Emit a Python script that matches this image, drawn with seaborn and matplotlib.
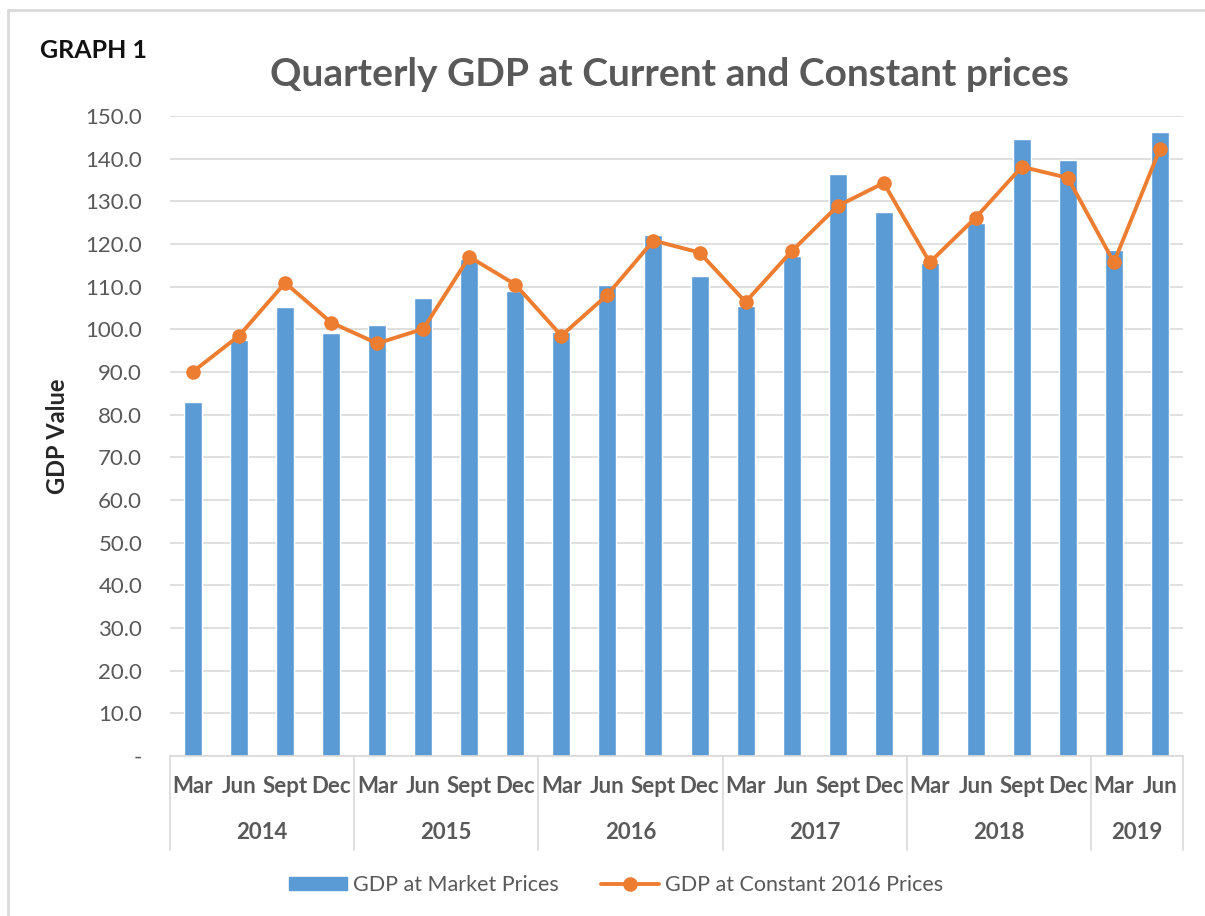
import matplotlib
matplotlib.use("Agg")
import matplotlib.pyplot as plt
import matplotlib.transforms as mtransforms
from matplotlib.lines import Line2D
from matplotlib.patches import Patch
from matplotlib.ticker import FuncFormatter
import numpy as np
import pandas as pd
import seaborn as sns

# ---- data ----
years = ["2014", "2015", "2016", "2017", "2018", "2019"]
quarters_per_year = [4, 4, 4, 4, 4, 2]
months = ["Mar", "Jun", "Sept", "Dec"] * 5 + ["Mar", "Jun"]
market_prices = [83.0, 97.5, 105.2, 99.1, 101.0, 107.3, 116.5, 109.0,
                 99.3, 110.5, 122.2, 112.6, 105.5, 117.2, 136.3, 127.6,
                 115.5, 125.0, 144.5, 139.6, 118.6, 146.2]
constant_prices = [90.1, 98.5, 110.9, 101.6, 96.7, 100.1, 117.0, 110.5,
                   98.5, 108.1, 120.8, 118.0, 106.4, 118.3, 128.9, 134.3,
                   115.7, 126.2, 138.1, 135.5, 115.7, 142.3]
yticks = [0, 10, 20, 30, 40, 50, 60, 70, 80, 90, 100, 110, 120, 130, 140, 150]

df = pd.DataFrame({"pos": np.arange(len(months)), "month": months,
                   "market": market_prices, "constant": constant_prices})

sns.set_theme(style="white")
plt.rcParams["font.family"] = ["Lato", "DejaVu Sans"]

BLUE = "#5b9bd5"
ORANGE = "#ed7d31"
GREY = "#595959"
GRID = "#d9d9d9"

fig = plt.figure(figsize=(12.05, 9.16), dpi=100)
ax = fig.add_axes([170 / 1205, 1 - 756 / 916, (1183 - 170) / 1205, (756 - 116) / 916])

sns.barplot(data=df, x="pos", y="market", color=BLUE, width=0.39,
            saturation=1, ax=ax, label="GDP at Market Prices")
sns.lineplot(data=df, x="pos", y="constant", color=ORANGE, linewidth=2.8,
             marker="o", markersize=10.5, markeredgewidth=0, ax=ax,
             label="GDP at Constant 2016 Prices")

ax.set_xlim(-0.5, len(months) - 0.5)
ax.set_ylim(0, 150)
ax.set_yticks(yticks)
ax.yaxis.set_major_formatter(FuncFormatter(lambda v, p: "-" if v == 0 else f"{v:.1f}"))
ax.tick_params(axis="y", labelsize=16, colors=GREY, length=0, pad=20)
ax.set_xticks([])
ax.set_xlabel("")
ax.set_ylabel("GDP Value", fontsize=17, fontweight="bold", color="#262626", labelpad=12)
ax.grid(axis="y", color=GRID, linewidth=1.2)
ax.set_axisbelow(True)
for s in ["top", "right", "left"]:
    ax.spines[s].set_visible(False)
ax.spines["bottom"].set_color(GRID)
ax.spines["bottom"].set_linewidth(1.2)

# category axis labels
trans = mtransforms.blended_transform_factory(ax.transData, ax.transAxes)
for i, m in enumerate(months):
    ax.text(i, -0.047, m, transform=trans, ha="center", va="center",
            fontsize=16, fontweight="bold", color=GREY, clip_on=False)
start = -0.5
bounds = [start]
for y, n in zip(years, quarters_per_year):
    mid = start + n / 2
    ax.text(mid, -0.119, y, transform=trans, ha="center", va="center",
            fontsize=16, fontweight="bold", color=GREY, clip_on=False)
    start += n
    bounds.append(start)
for b in bounds:
    ax.add_line(Line2D([b, b], [0, -0.147], transform=trans, color=GRID,
                       linewidth=1.2, clip_on=False))

# titles
fig.text(669 / 1205, 1 - 75 / 916, "Quarterly GDP at Current and Constant prices",
         ha="center", va="center", fontsize=28, fontweight="bold", color=GREY)
fig.text(40 / 1205, 1 - 50 / 916, "GRAPH 1", ha="left", va="center",
         fontsize=18, fontweight="bold", color="#111111")

# legend
if ax.get_legend():
    ax.get_legend().remove()
handles = [Patch(color=BLUE, label="GDP at Market Prices"),
           Line2D([], [], color=ORANGE, linewidth=2.8, marker="o", markersize=10.5,
                  markeredgewidth=0, label="GDP at Constant 2016 Prices")]
leg = fig.legend(handles=handles, loc="center", bbox_to_anchor=(616 / 1205, 1 - 885 / 916),
                 ncol=2, frameon=False, fontsize=15.5, handlelength=2.7, handleheight=0.6,
                 columnspacing=2.0, handletextpad=0.25)
for t in leg.get_texts():
    t.set_color(GREY)

# outer border
fig.add_artist(Line2D([8 / 1205, 1.0], [1 - 10 / 916, 1 - 10 / 916],
                      transform=fig.transFigure, color=GRID, linewidth=2))
fig.add_artist(Line2D([8 / 1205, 8 / 1205], [1 - 10 / 916, 0.0],
                      transform=fig.transFigure, color=GRID, linewidth=2))

fig.savefig("out.png", dpi=100)
